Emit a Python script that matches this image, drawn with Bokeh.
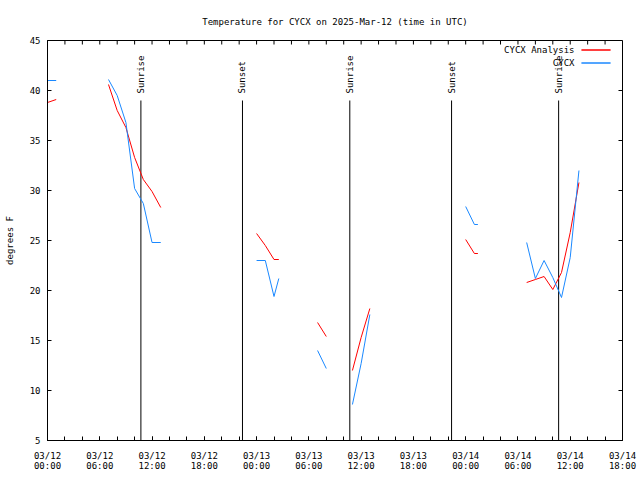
import math
from bokeh.plotting import figure
from bokeh.models import Range1d, FixedTicker, Label, BoxAnnotation
from bokeh.core.properties import value
from bokeh.embed import file_html
from bokeh.resources import INLINE

nan = float("nan")

# hours since 2025-03-12 00:00 UTC (NaN = gap in the record)
hours = [0, 1, nan, 7, 8, 9, 10, 11, 12, 13, nan, 24, 25, 26, 26.55, nan,
         31, 32, nan, 35, 36, 37, nan, 48, 49, 49.4, nan,
         55, 56, 57, 58, 59, 60, 61]
analysis_temp = [38.8, 39.1, nan, 40.6, 38.0, 36.3, 33.3, 31.1, 29.9, 28.3, nan,
                 25.7, 24.5, 23.1, 23.1, nan, 16.8, 15.4, nan, 12.0, 15.3, 18.2, nan,
                 25.1, 23.7, 23.7, nan, 20.8, 21.1, 21.4, 20.1, 21.8, 25.8, 30.8]
observed_temp = [41.0, 41.0, nan, 41.1, 39.5, 36.8, 30.2, 28.7, 24.8, 24.8, nan,
                 23.0, 23.0, 19.4, 21.2, nan, 14.0, 12.2, nan, 8.6, 12.7, 17.6, nan,
                 28.4, 26.6, 26.6, nan, 24.8, 21.2, 23.0, 21.3, 19.3, 23.3, 32.0]

sun_hours = [10.72, 22.38, 34.70, 46.38, 58.67]
sun_labels = ["Sunrise", "Sunset", "Sunrise", "Sunset", "Sunrise"]

x_tick_hours = [0, 6, 12, 18, 24, 30, 36, 42, 48, 54, 60, 66]
x_tick_labels = ["03/12\n00:00", "03/12\n06:00", "03/12\n12:00", "03/12\n18:00",
                 "03/13\n00:00", "03/13\n06:00", "03/13\n12:00", "03/13\n18:00",
                 "03/14\n00:00", "03/14\n06:00", "03/14\n12:00", "03/14\n18:00"]
x_minor_hours = list(range(0, 67, 2))
y_ticks = [5, 10, 15, 20, 25, 30, 35, 40, 45]

X0, X1 = 0, 66
Y0, Y1 = 5, 45

FONT = "DejaVu Sans Mono"
FS = "9px"
RED = "#ff0000"
BLUE = "#1a88ff"

p = figure(width=640, height=480, output_backend="svg", toolbar_location=None,
           x_range=Range1d(X0, X1), y_range=Range1d(Y0, Y1),
           min_border_left=47, min_border_right=18, min_border_top=40, min_border_bottom=40,
           title="Temperature for CYCX on 2025-Mar-12 (time in UTC)")
p.title.align = "center"
p.title.text_font = FONT
p.title.text_font_size = FS
p.title.text_font_style = "normal"
p.title.text_color = "black"
p.title.standoff = 28

p.xgrid.visible = False
p.ygrid.visible = False
p.outline_line_color = "black"
p.outline_line_alpha = 1.0
p.outline_line_width = 1
p.background_fill_color = "white"
p.border_fill_color = "white"

xt = FixedTicker(ticks=x_tick_hours, minor_ticks=x_minor_hours)
yt = FixedTicker(ticks=y_ticks, minor_ticks=[])


def style_axis(ax):
    ax.axis_line_color = "black"
    ax.major_tick_in = 4
    ax.major_tick_out = 0
    ax.minor_tick_in = 4
    ax.minor_tick_out = 0
    ax.major_tick_line_color = "black"
    ax.minor_tick_line_color = "black"
    ax.major_label_text_font = FONT
    ax.major_label_text_font_size = FS
    ax.major_label_text_color = "black"


xa = p.xaxis[0]
xa.ticker = xt
xa.major_label_overrides = {h: l for h, l in zip(x_tick_hours, x_tick_labels)}
style_axis(xa)
xa.major_label_standoff = 10
xa.major_label_text_line_height = 1.0

ya = p.yaxis[0]
ya.ticker = yt
style_axis(ya)
ya.major_label_standoff = 7
ya.axis_label = "degrees F"
ya.axis_label_text_font = FONT
ya.axis_label_text_font_size = FS
ya.axis_label_text_font_style = "normal"
ya.axis_label_text_color = "black"
ya.axis_label_standoff = 12

# mirrored inward ticks on the top and right borders (gnuplot style)
tick_dy = 0.4 * (Y1 - Y0) / 40
tick_dx = 0.46 * (X1 - X0) / 66
p.segment(x0=x_minor_hours, y0=[Y1] * len(x_minor_hours), x1=x_minor_hours,
          y1=[Y1 - tick_dy] * len(x_minor_hours), line_color="black", line_width=1)
p.segment(x0=[X1] * len(y_ticks), y0=y_ticks, x1=[X1 - tick_dx] * len(y_ticks),
          y1=y_ticks, line_color="black", line_width=1)

# sunrise / sunset markers
p.segment(x0=sun_hours, y0=[Y0] * len(sun_hours), x1=sun_hours, y1=[39] * len(sun_hours),
          line_color="black", line_width=1)
p.text(x=sun_hours, y=[39.7] * len(sun_hours), text=sun_labels, angle=math.pi / 2,
       text_align="left", text_baseline="middle", text_font=value(FONT),
       text_font_size=FS, text_color="black")

p.line(hours, analysis_temp, line_color=RED, line_width=1)
p.line(hours, observed_temp, line_color=BLUE, line_width=1)

# gnuplot-style key (text right-aligned, sample line to the right)
for txt, col, sy in [("CYCX Analysis", RED, 390.5), ("CYCX", BLUE, 377.5)]:
    p.add_layout(Label(x=527, y=sy, x_units="screen", y_units="screen", text=txt,
                       text_align="right", text_baseline="middle", text_font=FONT,
                       text_font_size=FS, text_color="black"))
    p.add_layout(BoxAnnotation(left=534, right=563, top=sy, bottom=sy,
                               left_units="screen", right_units="screen",
                               top_units="screen", bottom_units="screen",
                               fill_alpha=0, line_color=col, line_width=1, line_alpha=1))

open("out.html", "w").write(file_html(p, INLINE))
